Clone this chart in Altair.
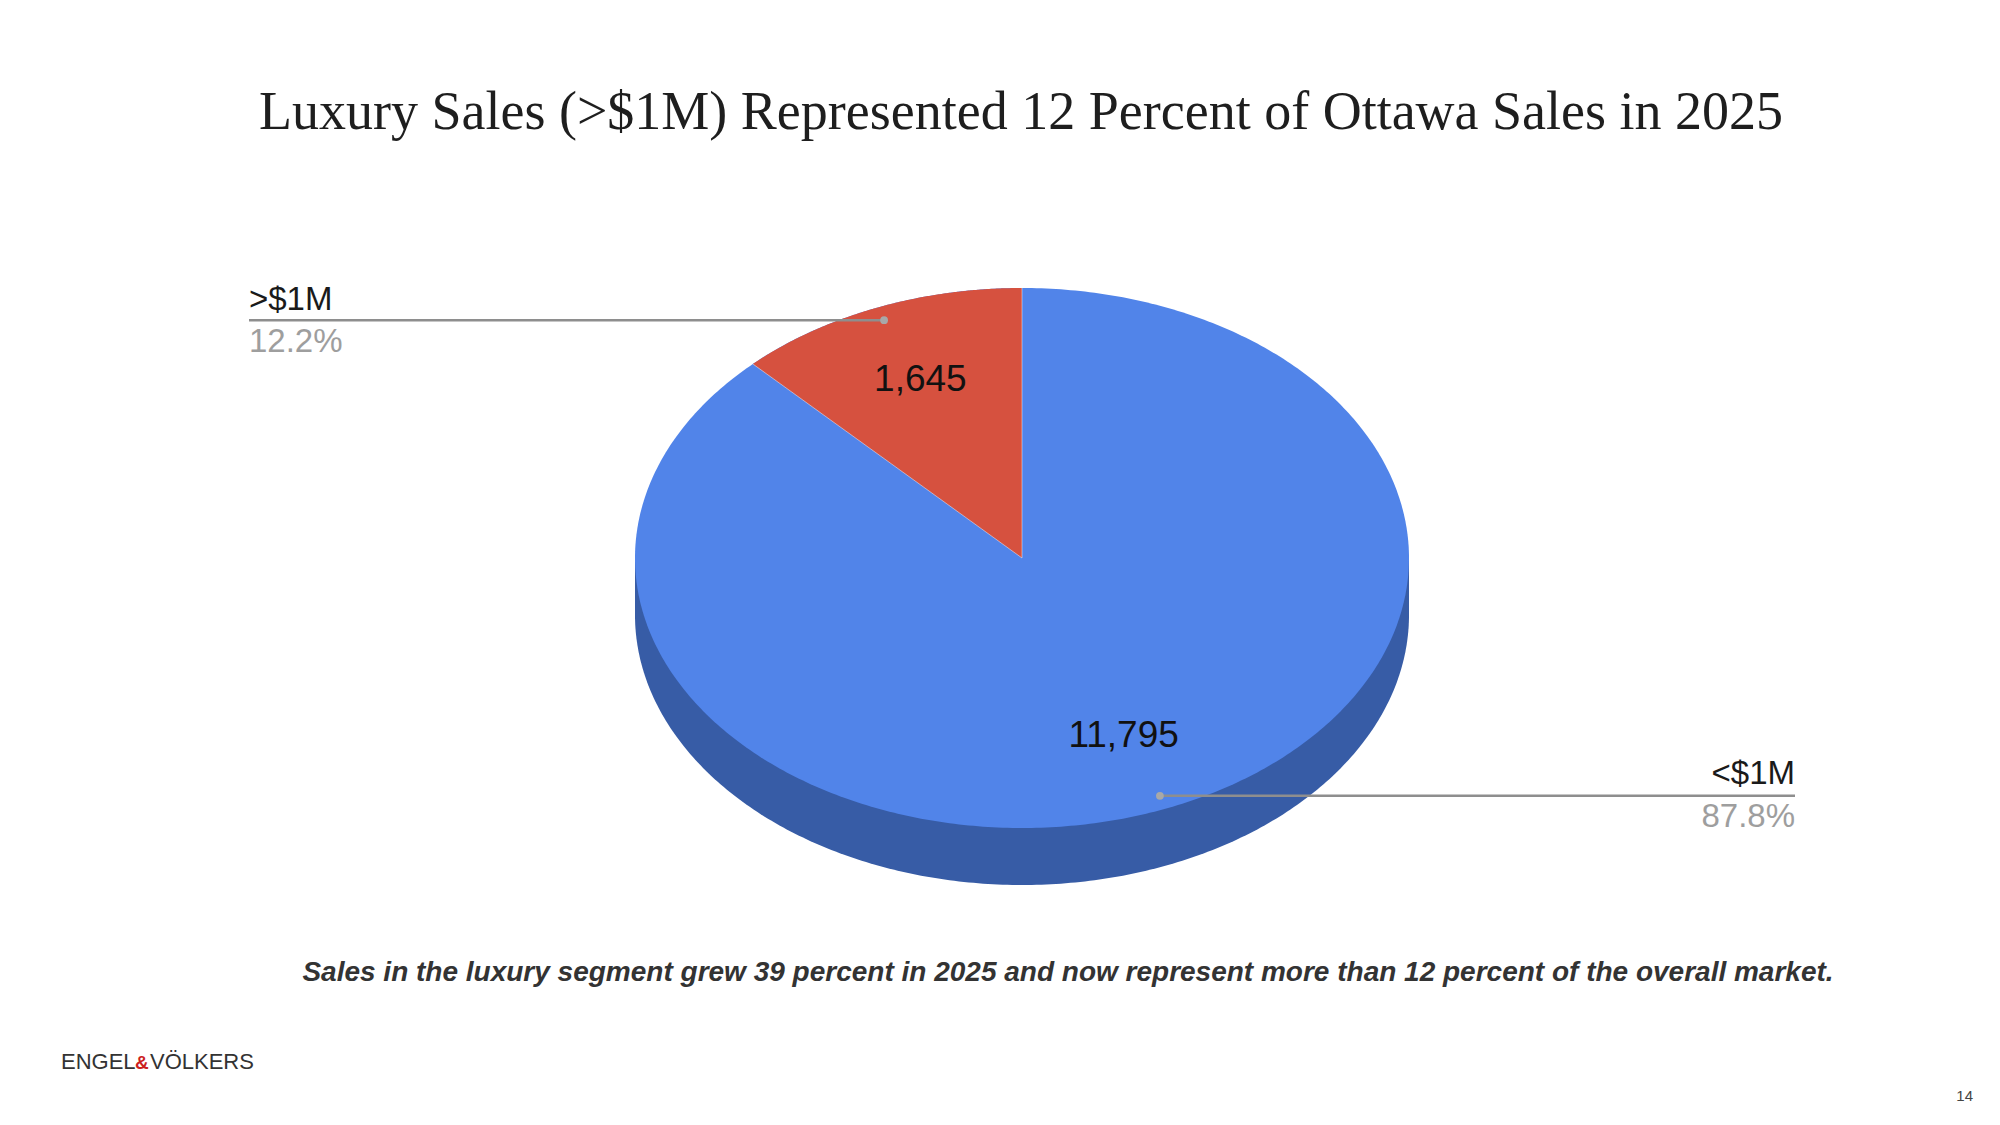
import altair as alt
import pandas as pd

# chart data
segments = ["<$1M", ">$1M"]
sales = [11795, 1645]
slice_colors = ["#5184e9", "#d6513f"]
side_color = "#375ca6"

title_text = "Luxury Sales (>$1M) Represented 12 Percent of Ottawa Sales in 2025"
note_text = ("Sales in the luxury segment grew 39 percent in 2025 and now represent "
             "more than 12 percent of the overall market.")
brand_parts = ["ENGEL", "&", "VÖLKERS"]
page_no = "14"

# layout, in page pixels (the chart sits 8px in from the page corner)
W, H = 1984, 1100
CX, CY, RX, RY, DEPTH = 1022, 558, 387, 270, 57
LEFT_X, RIGHT_X = 249, 1795
SANS = "Liberation Sans"
SERIF = "Liberation Serif"

source = pd.DataFrame({"segment": segments, "sales": sales, "order": range(len(segments))})

xs = alt.Scale(domain=[8, 8 + W], nice=False, zero=False)
ys = alt.Scale(domain=[8, 8 + H], nice=False, zero=False, reverse=True)


def X(f):
    return alt.X(f"{f}:Q", scale=xs, axis=None)


def Y(f):
    return alt.Y(f"{f}:Q", scale=ys, axis=None)


# shares, cumulative start and mid angle of every slice (clockwise from 12 o'clock)
base = alt.Chart(source).transform_joinaggregate(
    total="sum(sales)"
).transform_window(
    cum="sum(sales)", sort=[alt.SortField("order")]
).transform_calculate(
    start="(datum.cum - datum.sales) / datum.total"
).transform_calculate(
    frac="datum.sales / datum.total"
).transform_calculate(
    mid="2 * PI * (datum.cum - datum.sales / 2) / datum.total"
).transform_calculate(
    pct="format(datum.frac, '.1%')"
).transform_calculate(
    value_text="format(datum.sales, ',')"
)

# ellipse outline sampled by angle
ellipse = base.transform_filter("datum.order == 0").transform_calculate(
    t="sequence(0, 1.0001, 0.004)"
).transform_flatten(["t"]).transform_calculate(
    x=f"{CX} - {RX} * cos(PI * datum.t)"
).transform_calculate(
    top=f"{CY} - {RY} * sin(PI * datum.t)"
).transform_calculate(
    bottom=f"{CY} + {RY} * sin(PI * datum.t)"
).transform_calculate(
    side_bottom=f"{CY} + {RY} * sin(PI * datum.t) + {DEPTH}"
).transform_calculate(
    mid_line=f"{CY}"
)

side = ellipse.mark_area(color=side_color, orient="vertical").encode(
    x=X("x"), y=Y("mid_line"), y2="side_bottom:Q"
)
top_face = ellipse.mark_area(color=slice_colors[0], orient="vertical").encode(
    x=X("x"), y=Y("top"), y2="bottom:Q"
)

# the small slice, from its start edge to 12 o'clock
wedge = base.transform_filter("datum.order == 1").transform_calculate(
    ex=f"{CX} + {RX} * sin(2 * PI * datum.start)"
).transform_calculate(
    ey=f"{CY} - {RY} * cos(2 * PI * datum.start)"
).transform_calculate(
    t="sequence(0, 1.0001, 0.005)"
).transform_flatten(["t"]).transform_calculate(
    x=f"datum.ex + ({CX} - datum.ex) * datum.t"
).transform_calculate(
    arc=f"{CY} - {RY} * sqrt(max(0, 1 - pow((datum.x - {CX}) / {RX}, 2)))"
).transform_calculate(
    edge=f"{CY} + (datum.ey - {CY}) * (datum.x - {CX}) / (datum.ex - {CX})"
)
red = wedge.mark_area(color=slice_colors[1], orient="vertical").encode(
    x=X("x"), y=Y("arc"), y2="edge:Q"
)

# thin light seams between slices
seams = base.transform_calculate(
    sx=f"{CX} + {RX} * sin(2 * PI * datum.start)"
).transform_calculate(
    sy=f"{CY} - {RY} * cos(2 * PI * datum.start)"
).transform_calculate(
    cx=f"{CX}"
).transform_calculate(
    cy=f"{CY}"
).mark_rule(color="#ffffff", opacity=0.45, strokeWidth=1).encode(
    x=X("cx"), y=Y("cy"), x2="sx:Q", y2="sy:Q"
)

# value labels inside the slices
values = base.transform_calculate(
    vx=f"{CX} + 0.7 * {RX} * sin(datum.mid)"
).transform_calculate(
    vy=f"{CY} - 0.71 * {RY} * cos(datum.mid)"
).mark_text(font=SANS, fontSize=37, color="#111111", baseline="middle").encode(
    x=X("vx"), y=Y("vy"), text="value_text:N"
)

# leader lines with end labels
leader = base.transform_calculate(
    dx=f"{CX} + 0.95 * {RX} * sin(datum.mid)"
).transform_calculate(
    dy=f"{CY} - 0.95 * {RY} * cos(datum.mid)"
).transform_calculate(
    lx=f"sin(datum.mid) < 0 ? {LEFT_X} : {RIGHT_X}"
)
lines = leader.mark_rule(color="#8e8e8e", strokeWidth=2.5).encode(
    x=X("dx"), x2="lx:Q", y=Y("dy")
)
dots = leader.mark_circle(color="#a8a8a8", size=60, opacity=1).encode(
    x=X("dx"), y=Y("dy")
)
left = leader.transform_filter("sin(datum.mid) < 0")
right = leader.transform_filter("sin(datum.mid) >= 0")
name_left = left.mark_text(font=SANS, fontSize=33, color="#1a1a1a", align="left",
                           baseline="alphabetic", dy=-10).encode(
    x=X("lx"), y=Y("dy"), text="segment:N")
pct_left = left.mark_text(font=SANS, fontSize=33, color="#9e9e9e", align="left",
                          baseline="alphabetic", dy=32).encode(
    x=X("lx"), y=Y("dy"), text="pct:N")
name_right = right.mark_text(font=SANS, fontSize=33, color="#1a1a1a", align="right",
                             baseline="alphabetic", dy=-12).encode(
    x=X("lx"), y=Y("dy"), text="segment:N")
pct_right = right.mark_text(font=SANS, fontSize=33, color="#9e9e9e", align="right",
                            baseline="alphabetic", dy=31).encode(
    x=X("lx"), y=Y("dy"), text="pct:N")


def label(text, **kw):
    return alt.Chart(pd.DataFrame({"text": [text]})).mark_text(**kw).encode(text="text:N")


title = label(title_text, x=1013, y=121, font=SERIF, fontSize=54, color="#1e1e1e",
              align="center", baseline="alphabetic")
note = label(note_text, x=1060, y=973, font=SANS, fontSize=28, fontStyle="italic",
             fontWeight="bold", color="#333333", align="center", baseline="alphabetic")
brand = [
    label(brand_parts[0], x=53, y=1061, font=SANS, fontSize=22, color="#333333",
          align="left", baseline="alphabetic"),
    label(brand_parts[1], x=127, y=1061, font=SANS, fontSize=19, color="#cc1f1f",
          fontWeight="bold", align="left", baseline="alphabetic"),
    label(brand_parts[2], x=142, y=1061, font=SANS, fontSize=22, color="#333333",
          align="left", baseline="alphabetic"),
]
page = label(page_no, x=1965, y=1093, font=SANS, fontSize=15, color="#444444",
             align="right", baseline="alphabetic")

chart = alt.layer(
    side, top_face, red, seams, values, lines, dots,
    name_left, pct_left, name_right, pct_right,
    title, note, *brand, page,
).properties(
    width=W, height=H, padding=0,
    autosize=alt.AutoSizeParams(type="none"),
    background="#ffffff",
).configure_view(stroke=None)

chart.save("out.html", embed_options={"renderer": "svg", "actions": False})
